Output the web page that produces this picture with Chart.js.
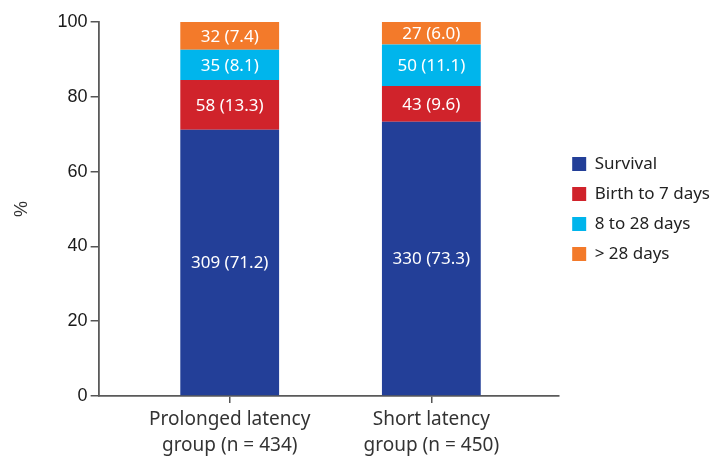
<!DOCTYPE html>
<html>
<head>
<meta charset="utf-8">
<script src="https://cdn.jsdelivr.net/npm/chart.js@4.4.1/dist/chart.umd.min.js"></script>
<style>
  html, body { margin: 0; padding: 0; background: #ffffff; }
  #wrap { width: 712px; height: 463px; }
</style>
</head>
<body>
<div id="wrap"><canvas id="chart" width="712" height="463"></canvas></div>
<script>
// Groups on the x axis (two-line labels)
const groups = [
  ["Prolonged latency", "group (n = 434)"],
  ["Short latency", "group (n = 450)"]
];

// Outcome series, bottom to top of each stack
const outcomes = ["Survival", "Birth to 7 days", "8 to 28 days", "> 28 days"];

// Counts per group
const survivalCounts = [309, 330];
const earlyDeathCounts = [58, 43];
const neonatalDeathCounts = [35, 50];
const lateDeathCounts = [32, 27];

// Percentages per group
const survivalPct = [71.2, 73.3];
const earlyDeathPct = [13.3, 9.6];
const neonatalDeathPct = [8.1, 11.1];
const lateDeathPct = [7.4, 6.0];

// Y axis tick values
const yTicks = [0, 20, 40, 60, 80, 100];

const seriesColors = ["#233f98", "#d0232b", "#00b5ec", "#f37a2a"];

const countsBySeries = [survivalCounts, earlyDeathCounts, neonatalDeathCounts, lateDeathCounts];
const pctBySeries = [survivalPct, earlyDeathPct, neonatalDeathPct, lateDeathPct];

const datasets = outcomes.map((name, s) => ({
  label: name,
  data: pctBySeries[s].map((v, i) => ({ x: i, y: v })),
  counts: countsBySeries[s],
  backgroundColor: seriesColors[s],
  borderWidth: 0,
  categoryPercentage: 1,
  barPercentage: 0.49
}));

// Writes "count (percent)" in the middle of each segment
const segmentLabels = {
  id: "segmentLabels",
  afterDatasetsDraw(chart) {
    const ctx = chart.ctx;
    ctx.save();
    ctx.fillStyle = "#ffffff";
    ctx.font = "17px 'Noto Sans'";
    ctx.textAlign = "center";
    ctx.textBaseline = "middle";
    chart.data.datasets.forEach((ds, d) => {
      const meta = chart.getDatasetMeta(d);
      meta.data.forEach((bar, i) => {
        const p = bar.getProps(["x", "y", "base"], true);
        const pct = pctBySeries[d][i];
        ctx.fillText(ds.counts[i] + " (" + pct.toFixed(1) + ")", p.x, (p.y + p.base) / 2 + 1);
      });
    });
    ctx.restore();
  }
};

new Chart(document.getElementById("chart"), {
  type: "bar",
  data: { datasets },
  plugins: [segmentLabels],
  options: {
    responsive: false,
    devicePixelRatio: 1,
    animation: false,
    layout: { padding: { top: 22, left: 7, right: -8, bottom: 0 } },
    plugins: {
      tooltip: { enabled: false },
      legend: {
        position: "right",
        align: "center",
        fullSize: false,
        labels: {
          boxWidth: 14,
          boxHeight: 14,
          padding: 13,
          color: "#222222",
          font: { family: "'Noto Sans'", size: 17 }
        }
      }
    },
    scales: {
      x: {
        type: "linear",
        stacked: true,
        offset: false,
        min: -0.65,
        max: 1.634,
        grid: {
          display: true,
          offset: false,
          drawOnChartArea: false,
          drawTicks: true,
          tickLength: 7,
          color: "#555555",
          lineWidth: 1.5
        },
        border: { display: true, color: "#5a5a5a", width: 1.8 },
        ticks: {
          stepSize: 1,
          includeBounds: false,
          maxRotation: 0,
          autoSkip: false,
          padding: 4,
          color: "#333333",
          font: { family: "'Noto Sans'", size: 19, lineHeight: 1.37 },
          callback: (v) => (Number.isInteger(v) && groups[v]) ? groups[v] : ""
        }
      },
      y: {
        stacked: true,
        min: 0,
        max: 100,
        afterBuildTicks: (scale) => { scale.ticks = yTicks.map(v => ({ value: v })); },
        grid: {
          display: true,
          drawOnChartArea: false,
          drawTicks: true,
          tickLength: 8,
          color: "#555555",
          lineWidth: 1.5
        },
        border: { display: true, color: "#5a5a5a", width: 1.8 },
        ticks: {
          padding: 3,
          color: "#1a1a1a",
          font: { family: "'Liberation Sans'", size: 18 }
        },
        title: {
          display: true,
          text: "%",
          color: "#333333",
          padding: { top: 4, bottom: 22 },
          font: { family: "'Liberation Sans'", size: 18 }
        }
      }
    }
  }
});
</script>
</body>
</html>
